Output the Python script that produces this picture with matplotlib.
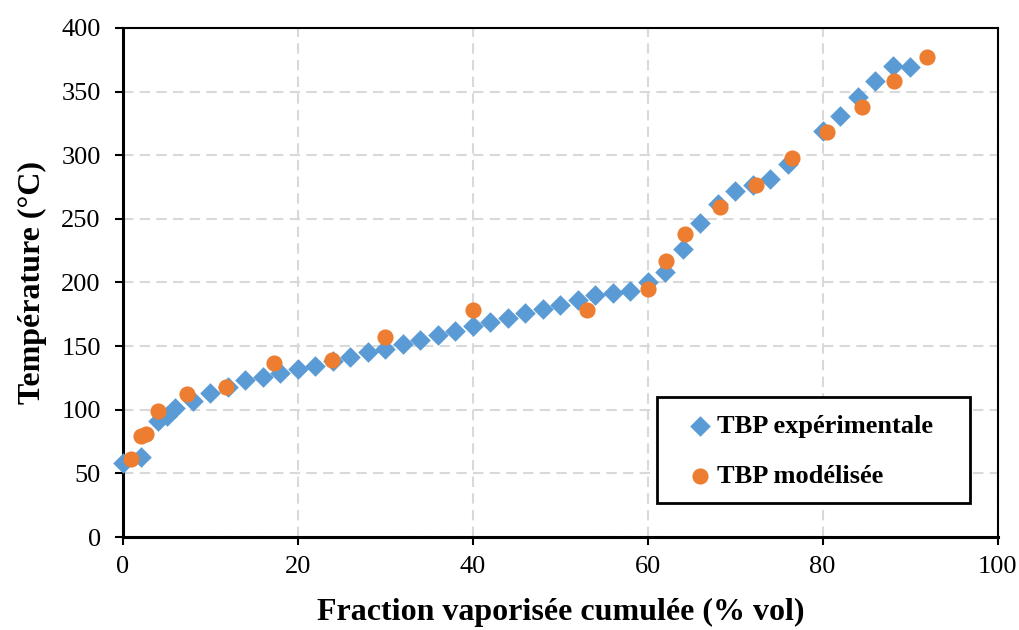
import matplotlib
matplotlib.use("Agg")
import matplotlib.pyplot as plt
from matplotlib.patches import Rectangle

# Experimental TBP curve (cumulative vaporised fraction, % vol -> temperature, °C)
exp_frac = [0, 2, 4, 5, 6, 8, 10, 12, 14, 16, 18, 20, 22, 24, 26, 28, 30, 32, 34, 36,
            38, 40, 42, 44, 46, 48, 50, 52, 54, 56, 58, 60, 62, 64, 66, 68, 70, 72,
            74, 76, 80, 82, 84, 86, 88, 90]
exp_temp = [58, 63, 91, 95, 101, 107, 113.5, 118, 123, 125.5, 128.5, 132, 134.5, 138,
            141.5, 145, 147.5, 151.5, 155, 159, 162, 166, 169, 172, 176, 179, 182, 186,
            190, 192, 193, 200, 208.5, 226, 247, 262, 272, 276.5, 281, 293, 319, 331,
            346, 358.5, 370, 369.5]

# Modelled TBP curve
mod_frac = [0.9, 2.1, 2.6, 4.0, 7.3, 11.8, 17.3, 23.9, 29.9, 40.0, 53.0, 60.0, 62.1,
            64.3, 68.3, 72.4, 76.5, 80.5, 84.5, 88.2, 91.9]
mod_temp = [61, 79, 81, 99, 112, 118, 137, 139, 157, 178, 178, 195, 217, 238, 259,
            277, 298, 318, 338, 358, 377]

x_ticks = [0, 20, 40, 60, 80, 100]
y_ticks = [0, 50, 100, 150, 200, 250, 300, 350, 400]

plt.rcParams["font.family"] = ["Liberation Serif", "DejaVu Serif"]

fig = plt.figure(figsize=(10.2, 6.3), dpi=100)
ax = fig.add_axes([0.1206, 0.1476, 0.8574, 0.808])

ax.scatter(exp_frac, exp_temp, marker="D", s=110, color="#5B9BD5", linewidths=0,
           label="TBP expérimentale", zorder=3, clip_on=False)
ax.scatter(mod_frac, mod_temp, marker="o", s=135, color="#ED7D31", linewidths=0,
           label="TBP modélisée", zorder=4, clip_on=False)

ax.set_xlim(0, 100)
ax.set_ylim(0, 400)
ax.set_xticks(x_ticks)
ax.set_yticks(y_ticks)
ax.tick_params(axis="both", direction="out", length=6, width=1.5, labelsize=19,
               colors="black")
ax.tick_params(axis="y", pad=10)
ax.tick_params(axis="x", pad=8)

ax.grid(True, color="#d9d9d9", linestyle=(0, (5, 3)), linewidth=1.5, zorder=0)
ax.set_axisbelow(True)

for side in ("left", "bottom"):
    ax.spines[side].set_linewidth(2.2)
for side in ("top", "right"):
    ax.spines[side].set_linewidth(1.5)
for sp in ax.spines.values():
    sp.set_color("black")

ax.set_xlabel("Fraction vaporisée cumulée (% vol)", fontsize=23, fontweight="bold",
              labelpad=14)
ax.set_ylabel("Température (°C)", fontsize=23, fontweight="bold", labelpad=10)

# Legend frame drawn as its own rectangle, entries placed inside it
frame = Rectangle((0.611, 0.0668), 0.357, 0.208, transform=ax.transAxes,
                  facecolor="white", edgecolor="black", linewidth=2, zorder=5)
ax.add_patch(frame)
leg = ax.legend(loc="center left", bbox_to_anchor=(0.6446, 0.168), frameon=False,
                prop={"weight": "bold", "size": 19}, handletextpad=0.15,
                labelspacing=1.0, borderpad=0, borderaxespad=0, handlelength=1.0,
                markerscale=1.0)
leg.set_zorder(6)

fig.savefig("out.png", dpi=100)
